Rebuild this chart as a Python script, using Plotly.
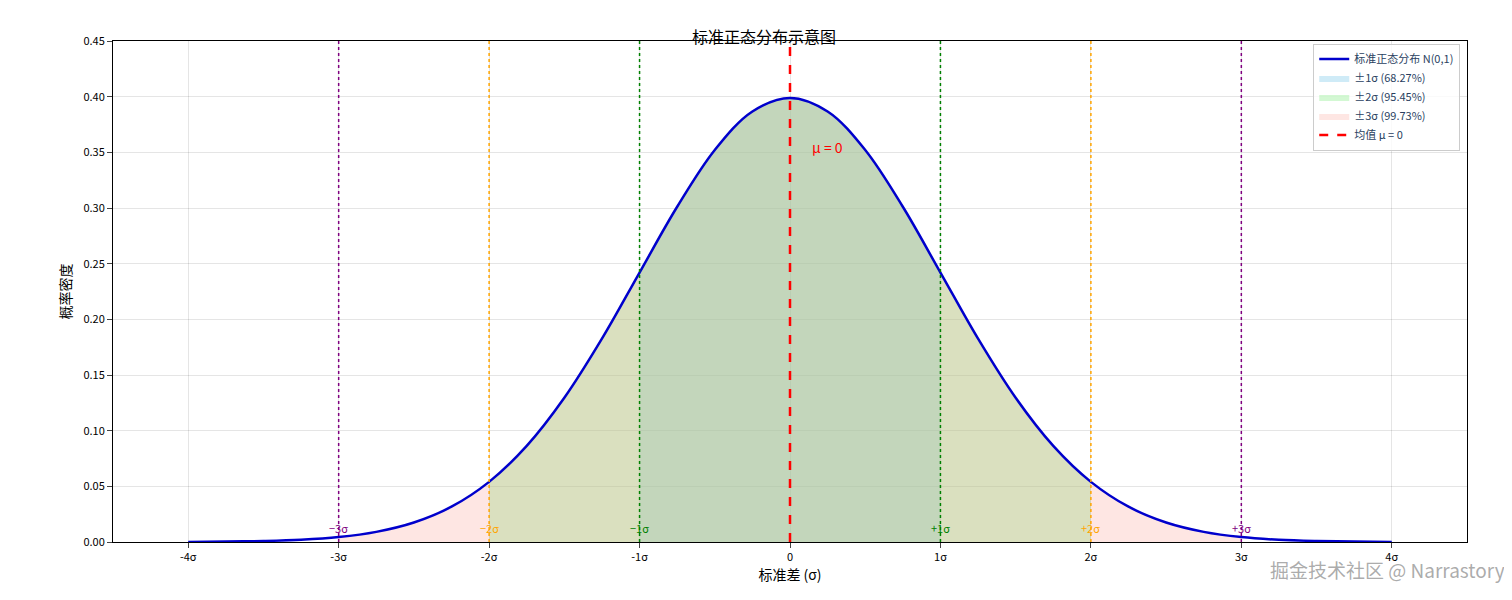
import plotly.graph_objects as go

# Standard normal density read at 0.25 steps
x_vals = [-4,-3.75,-3.5,-3.25,-3,-2.75,-2.5,-2.25,-2,-1.75,-1.5,-1.25,-1,-0.75,-0.5,-0.25,0,
          0.25,0.5,0.75,1,1.25,1.5,1.75,2,2.25,2.5,2.75,3,3.25,3.5,3.75,4]
y_vals = [0.0001,0.0004,0.0009,0.0020,0.0044,0.0091,0.0175,0.0317,0.0540,0.0863,0.1295,0.1826,0.2420,0.3011,0.3521,0.3867,0.3989,
          0.3867,0.3521,0.3011,0.2420,0.1826,0.1295,0.0863,0.0540,0.0317,0.0175,0.0091,0.0044,0.0020,0.0009,0.0004,0.0001]
band_names = {1: "±1σ (68.27%)", 2: "±2σ (95.45%)", 3: "±3σ (99.73%)"}
band_fill = {1: "rgba(135,206,235,0.4)", 2: "rgba(144,238,144,0.4)", 3: "rgba(250,128,114,0.2)"}
sigma_colors = {1: "green", 2: "orange", 3: "purple"}
tick_vals = [-4,-3,-2,-1,0,1,2,3,4]
tick_text = ["-4σ","-3σ","-2σ","-1σ","0","1σ","2σ","3σ","4σ"]

font = "Noto Sans CJK SC"
fig = go.Figure()
for k in [1, 2, 3]:
    xs = [x for x in x_vals if -k <= x <= k]
    ys = [y for x, y in zip(x_vals, y_vals) if -k <= x <= k]
    fig.add_trace(go.Scatter(x=xs, y=ys, mode="lines", line=dict(width=0, shape="spline"),
                             fill="tozeroy", fillcolor=band_fill[k], name=band_names[k], legendrank=k + 1))
fig.add_trace(go.Scatter(x=x_vals, y=y_vals, mode="lines", line=dict(color="#0000cc", width=2.5, shape="spline"),
                         name="标准正态分布 N(0,1)", legendrank=1))
fig.add_trace(go.Scatter(x=[0, 0], y=[0, 0.45], mode="lines", line=dict(color="red", width=2.5, dash="dash"),
                         name="均值 μ = 0", legendrank=5))
for k in [1, 2, 3]:
    for s in [-1, 1]:
        fig.add_shape(type="line", x0=s*k, x1=s*k, y0=0, y1=0.45, line=dict(color=sigma_colors[k], width=1.5, dash="dot"))
        fig.add_annotation(x=s*k, y=0.013, text=("+" if s > 0 else "−") + f"{k}σ", showarrow=False,
                           font=dict(color=sigma_colors[k], size=11, family=font))
fig.add_annotation(x=0.13, y=0.355, text="μ = 0", showarrow=False, xanchor="left",
                   font=dict(color="red", size=14, family=font))
fig.add_annotation(x=1, y=0, xref="paper", yref="paper", xanchor="right", yanchor="middle", xshift=40, yshift=-27,
                   text="掘金技术社区 @ Narrastory", showarrow=False, font=dict(color="rgba(150,150,150,0.8)", size=19, family=font))

ax = dict(showline=True, linecolor="black", mirror=True, ticks="outside", showgrid=True,
          gridcolor="rgba(0,0,0,0.1)", zeroline=False, tickfont=dict(size=11, family=font, color="black"))
fig.update_layout(
    width=1512, height=600, paper_bgcolor="white", plot_bgcolor="white",
    margin=dict(l=105, r=53, t=33, b=66),
    title=dict(text="标准正态分布示意图", x=0.5, y=0.96, xanchor="center", font=dict(size=16, family=font, color="black")),
    xaxis=dict(ax, range=[-4.5, 4.5], tickvals=tick_vals, ticktext=tick_text,
               title=dict(text="标准差 (σ)", font=dict(size=14, family=font, color="black"), standoff=5)),
    yaxis=dict(ax, range=[0, 0.45], dtick=0.05, tickformat=".2f",
               title=dict(text="概率密度", font=dict(size=14, family=font, color="black"), standoff=8)),
    legend=dict(x=0.995, y=0.995, xanchor="right", yanchor="top", bordercolor="#ccc", borderwidth=1,
                bgcolor="rgba(255,255,255,0.8)", font=dict(size=11, family=font)),
)
fig.write_html("out.html")
